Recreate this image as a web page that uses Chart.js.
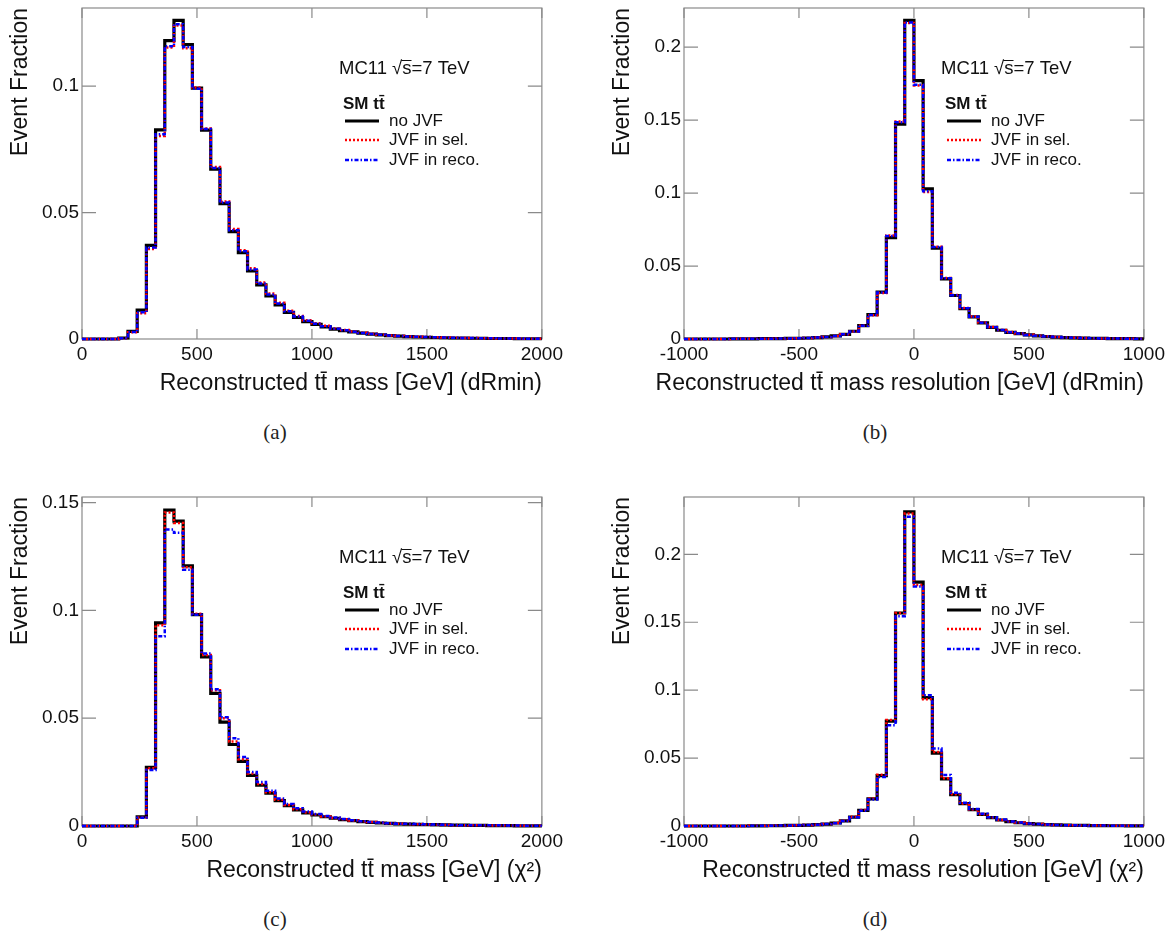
<!DOCTYPE html>
<html>
<head>
<meta charset="utf-8">
<script src="https://cdn.jsdelivr.net/npm/chart.js@4.4.0/dist/chart.umd.min.js"></script>
<style>
  body { margin: 0; background: #fff; }
  #page { position: relative; width: 1173px; height: 936px; overflow: hidden; background: #fff; }
  canvas { position: absolute; }
  .cap { position: absolute; font-family: "Liberation Serif", serif; font-size: 21px; color: #222;
         transform: translate(-50%, -50%); }
</style>
</head>
<body>
<div id="page">
  <canvas id="cA" width="567" height="409" style="left:0;top:-8px"></canvas>
  <canvas id="cB" width="567" height="409" style="left:602px;top:-8px"></canvas>
  <canvas id="cC" width="567" height="407" style="left:0;top:481px"></canvas>
  <canvas id="cD" width="567" height="407" style="left:602px;top:481px"></canvas>
  <div class="cap" style="left:275px;top:432px">(a)</div>
  <div class="cap" style="left:875px;top:432px">(b)</div>
  <div class="cap" style="left:275px;top:919px">(c)</div>
  <div class="cap" style="left:875px;top:919px">(d)</div>
</div>
<script>
// binning: 50 bins of 40 GeV
const binWidth = 40;
const massLow = 0, massHigh = 2000;
const resLow = -1000, resHigh = 1000;

const seriesNames = ["no JVF", "JVF in sel.", "JVF in reco."];

// (a) mass, dRmin
const massDR_noJVF = [0, 0, 0, 0, 0.0004, 0.003, 0.0114, 0.037, 0.0827, 0.118, 0.126, 0.1164, 0.0992, 0.0826, 0.0672, 0.0535, 0.0425, 0.0341, 0.0269, 0.0214, 0.017, 0.0135, 0.0105, 0.0085, 0.0069, 0.0058, 0.0048, 0.0039, 0.0033, 0.0028, 0.0023, 0.0019, 0.0016, 0.0013, 0.0011, 0.0009, 0.0008, 0.0007, 0.0006, 0.0005, 0.0004, 0.0004, 0.0003, 0.0003, 0.0002, 0.0002, 0.0002, 0.0001, 0.0001, 0.0001];
const massDR_sel = [0, 0, 0, 0, 0.0003, 0.0027, 0.0102, 0.0356, 0.0803, 0.1153, 0.124, 0.115, 0.0995, 0.0832, 0.068, 0.0544, 0.0435, 0.0351, 0.028, 0.0223, 0.018, 0.0143, 0.0112, 0.0091, 0.0074, 0.0062, 0.0052, 0.0042, 0.0036, 0.003, 0.0025, 0.0021, 0.0017, 0.0014, 0.0012, 0.001, 0.0009, 0.0008, 0.0007, 0.0006, 0.0005, 0.0004, 0.0004, 0.0003, 0.0003, 0.0002, 0.0002, 0.0002, 0.0001, 0.0001];
const massDR_reco = [0, 0, 0, 0, 0.0003, 0.0028, 0.0106, 0.0362, 0.081, 0.1158, 0.1245, 0.1155, 0.099, 0.083, 0.0676, 0.054, 0.043, 0.0347, 0.0275, 0.0219, 0.0176, 0.014, 0.011, 0.0089, 0.0072, 0.006, 0.005, 0.0041, 0.0035, 0.0029, 0.0024, 0.002, 0.0017, 0.0014, 0.0012, 0.001, 0.0009, 0.0008, 0.0007, 0.0006, 0.0005, 0.0004, 0.0004, 0.0003, 0.0003, 0.0002, 0.0002, 0.0002, 0.0001, 0.0001];

// (b) resolution, dRmin
const resDR_noJVF = [0, 0, 0, 0, 0, 0.0001, 0.0001, 0.0001, 0.0002, 0.0002, 0.0003, 0.0004, 0.0005, 0.0007, 0.001, 0.0014, 0.0021, 0.0032, 0.0053, 0.0092, 0.0167, 0.0321, 0.0694, 0.1473, 0.2183, 0.1771, 0.1029, 0.0623, 0.0412, 0.0298, 0.0208, 0.0151, 0.011, 0.008, 0.006, 0.0046, 0.0037, 0.0028, 0.0022, 0.0017, 0.0013, 0.001, 0.0008, 0.0006, 0.0005, 0.0004, 0.0003, 0.0003, 0.0002, 0.0001];
const resDR_sel = [0, 0, 0, 0, 0, 0.0001, 0.0001, 0.0001, 0.0002, 0.0002, 0.0003, 0.0004, 0.0005, 0.0007, 0.001, 0.0014, 0.0021, 0.0032, 0.0052, 0.009, 0.0163, 0.0315, 0.071, 0.149, 0.2165, 0.1737, 0.1008, 0.0632, 0.0418, 0.0302, 0.0212, 0.0154, 0.0113, 0.0082, 0.0062, 0.0048, 0.0038, 0.0029, 0.0023, 0.0018, 0.0014, 0.0011, 0.0008, 0.0006, 0.0005, 0.0004, 0.0003, 0.0003, 0.0002, 0.0001];
const resDR_reco = [0, 0, 0, 0, 0, 0.0001, 0.0001, 0.0001, 0.0002, 0.0002, 0.0003, 0.0004, 0.0005, 0.0007, 0.001, 0.0014, 0.0021, 0.0032, 0.0052, 0.0091, 0.0165, 0.0318, 0.0705, 0.1485, 0.2168, 0.1742, 0.1012, 0.063, 0.0416, 0.03, 0.021, 0.0153, 0.0112, 0.0081, 0.0061, 0.0047, 0.0037, 0.0028, 0.0022, 0.0017, 0.0013, 0.001, 0.0008, 0.0006, 0.0005, 0.0004, 0.0003, 0.0003, 0.0002, 0.0001];

// (c) mass, chi2
const massChi_noJVF = [0, 0, 0, 0, 0, 0, 0.0042, 0.0272, 0.0942, 0.1465, 0.1414, 0.1207, 0.098, 0.0784, 0.0615, 0.0482, 0.0378, 0.03, 0.0235, 0.0189, 0.0152, 0.0118, 0.0094, 0.0075, 0.0061, 0.0051, 0.0043, 0.0036, 0.003, 0.0025, 0.002, 0.0017, 0.0014, 0.0012, 0.001, 0.0009, 0.0008, 0.0007, 0.0006, 0.0005, 0.0004, 0.0004, 0.0003, 0.0003, 0.0002, 0.0002, 0.0002, 0.0001, 0.0001, 0.0001];
const massChi_sel = [0, 0, 0, 0, 0, 0, 0.004, 0.0268, 0.0931, 0.1454, 0.1405, 0.12, 0.0985, 0.0793, 0.063, 0.05, 0.0392, 0.031, 0.0243, 0.0195, 0.0157, 0.0122, 0.0097, 0.0078, 0.0063, 0.0053, 0.0044, 0.0037, 0.0031, 0.0026, 0.0021, 0.0018, 0.0015, 0.0012, 0.001, 0.0009, 0.0008, 0.0007, 0.0006, 0.0005, 0.0004, 0.0004, 0.0003, 0.0003, 0.0002, 0.0002, 0.0002, 0.0001, 0.0001, 0.0001];
const massChi_reco = [0, 0, 0, 0, 0, 0, 0.0038, 0.026, 0.088, 0.1375, 0.136, 0.1188, 0.098, 0.08, 0.0634, 0.0504, 0.0407, 0.032, 0.025, 0.0204, 0.0163, 0.0128, 0.0102, 0.0082, 0.0067, 0.0056, 0.0046, 0.0039, 0.0033, 0.0027, 0.0022, 0.0019, 0.0016, 0.0013, 0.0011, 0.001, 0.0009, 0.0008, 0.0007, 0.0006, 0.0005, 0.0004, 0.0004, 0.0003, 0.0003, 0.0003, 0.0002, 0.0002, 0.0001, 0.0001];

// (d) resolution, chi2
const resChi_noJVF = [0, 0, 0, 0, 0, 0, 0, 0.0001, 0.0001, 0.0002, 0.0003, 0.0004, 0.0005, 0.0007, 0.001, 0.0014, 0.0022, 0.0037, 0.0066, 0.0115, 0.02, 0.0371, 0.0772, 0.1568, 0.2313, 0.1795, 0.0945, 0.0537, 0.0347, 0.023, 0.0164, 0.012, 0.0085, 0.0061, 0.0044, 0.0032, 0.0024, 0.0018, 0.0014, 0.001, 0.0008, 0.0006, 0.0005, 0.0004, 0.0003, 0.0003, 0.0002, 0.0002, 0.0001, 0.0001];
const resChi_sel = [0, 0, 0, 0, 0, 0, 0, 0.0001, 0.0001, 0.0002, 0.0003, 0.0004, 0.0005, 0.0007, 0.001, 0.0014, 0.0022, 0.0038, 0.0068, 0.0117, 0.0203, 0.0378, 0.078, 0.1568, 0.23, 0.1775, 0.0933, 0.0545, 0.0352, 0.0233, 0.0166, 0.0122, 0.0087, 0.0063, 0.0045, 0.0033, 0.0025, 0.0019, 0.0014, 0.001, 0.0008, 0.0006, 0.0005, 0.0004, 0.0003, 0.0003, 0.0002, 0.0002, 0.0001, 0.0001];
const resChi_reco = [0, 0, 0, 0, 0, 0, 0, 0.0001, 0.0001, 0.0002, 0.0003, 0.0004, 0.0005, 0.0007, 0.001, 0.0014, 0.0021, 0.0036, 0.0065, 0.0112, 0.0195, 0.036, 0.0742, 0.1544, 0.2276, 0.1763, 0.0962, 0.0571, 0.0376, 0.0245, 0.0172, 0.0126, 0.009, 0.0065, 0.0047, 0.0034, 0.0026, 0.0019, 0.0015, 0.0011, 0.0008, 0.0006, 0.0005, 0.0004, 0.0003, 0.0003, 0.0002, 0.0002, 0.0001, 0.0001];

// axis ticks
const massTicks = [0, 500, 1000, 1500, 2000];
const massTickLabels = ["0", "500", "1000", "1500", "2000"];
const resTicks = [-1000, -500, 0, 500, 1000];
const resTickLabels = ["-1000", "-500", "0", "500", "1000"];
const yTicksMassDR = [0, 0.05, 0.1];
const yLabelsMassDR = ["0", "0.05", "0.1"];
const yTicksMassChi = [0, 0.05, 0.1, 0.15];
const yLabelsMassChi = ["0", "0.05", "0.1", "0.15"];
const yTicksRes = [0, 0.05, 0.1, 0.15, 0.2];
const yLabelsRes = ["0", "0.05", "0.1", "0.15", "0.2"];

const FONT = "'Liberation Sans', Arial, sans-serif";

function toSteps(low, vals) {
  // one point at each bin's low edge, plus the closing edge
  const pts = vals.map((v, i) => ({x: low + i * binWidth, y: v}));
  pts.push({x: low + vals.length * binWidth, y: vals[vals.length - 1]});
  return pts;
}

function drawLegend(ctx, a) {
  const x0 = a.left, y0 = a.top;
  ctx.fillStyle = "#111";
  ctx.textBaseline = "middle";
  ctx.textAlign = "left";
  ctx.font = "18.5px " + FONT;
  const pre = "MC11 \u221A";
  ctx.fillText(pre + "s=7 TeV", x0 + 257, y0 + 61);
  const w1 = ctx.measureText(pre).width, ws = ctx.measureText("s").width;
  ctx.strokeStyle = "#111"; ctx.lineWidth = 1; ctx.setLineDash([]);
  ctx.beginPath();
  ctx.moveTo(x0 + 257 + w1 - 1, y0 + 52.5); ctx.lineTo(x0 + 257 + w1 + ws, y0 + 52.5);
  ctx.stroke();

  ctx.font = "bold 17px " + FONT;
  ctx.fillText("SM tt\u0304", x0 + 261, y0 + 96);

  ctx.font = "17px " + FONT;
  const rows = [
    {y: 113, color: "#000", w: 3, dash: []},
    {y: 132, color: "#ff0000", w: 2.5, dash: [2, 2]},
    {y: 152, color: "#0000ff", w: 2.5, dash: [4, 2, 1.5, 2]}
  ];
  rows.forEach((r, i) => {
    ctx.strokeStyle = r.color; ctx.lineWidth = r.w; ctx.setLineDash(r.dash);
    ctx.beginPath();
    ctx.moveTo(x0 + 263, y0 + r.y); ctx.lineTo(x0 + 297, y0 + r.y);
    ctx.stroke();
    ctx.setLineDash([]);
    ctx.fillText(seriesNames[i], x0 + 307, y0 + r.y);
  });
}

function makeChart(id, low, high, black, red, blue, xTicks, xLabels, yTicks, yLabels, yMax, xTitle) {
  const framePlugin = {
    id: "frame",
    beforeDatasetsDraw(chart) {
      const {ctx, chartArea: a, scales: {x, y}} = chart;
      ctx.save();
      ctx.strokeStyle = "#8a8a8a";
      ctx.lineWidth = 1.2;
      ctx.strokeRect(a.left, a.top, a.width, a.height);
      ctx.beginPath();
      x.ticks.forEach(t => {
        const px = x.getPixelForValue(t.value);
        ctx.moveTo(px, a.bottom); ctx.lineTo(px, a.bottom - 10);
        ctx.moveTo(px, a.top); ctx.lineTo(px, a.top + 10);
      });
      y.ticks.forEach(t => {
        const py = y.getPixelForValue(t.value);
        ctx.moveTo(a.left, py); ctx.lineTo(a.left + 14, py);
        ctx.moveTo(a.right, py); ctx.lineTo(a.right - 14, py);
      });
      ctx.stroke();
      ctx.restore();
    },
    afterDraw(chart) {
      const {ctx, chartArea: a} = chart;
      ctx.save();
      drawLegend(ctx, a);
      ctx.fillStyle = "#111";
      ctx.font = "23px " + FONT;
      ctx.textAlign = "right";
      ctx.textBaseline = "middle";
      ctx.fillText(xTitle, a.right, a.bottom + 45);
      ctx.restore();
    }
  };

  return new Chart(document.getElementById(id), {
    type: "line",
    data: {
      datasets: [
        {label: seriesNames[2], data: toSteps(low, blue), borderColor: "#0000ff", borderWidth: 2.5,
         borderDash: [4, 2, 1.5, 2], stepped: "before", pointRadius: 0, fill: false, clip: false, order: 1},
        {label: seriesNames[1], data: toSteps(low, red), borderColor: "#ff0000", borderWidth: 2.5,
         borderDash: [2, 2], stepped: "before", pointRadius: 0, fill: false, clip: false, order: 2},
        {label: seriesNames[0], data: toSteps(low, black), borderColor: "#000000", borderWidth: 3.2,
         stepped: "before", pointRadius: 0, fill: false, clip: false, order: 3}
      ]
    },
    options: {
      responsive: false,
      animation: false,
      events: [],
      layout: {padding: {left: 0, top: 16, right: 25, bottom: 0}},
      plugins: {legend: {display: false}, tooltip: {enabled: false}},
      scales: {
        x: {
          type: "linear", min: low, max: high,
          afterFit: s => { s.height = 62; },
          afterBuildTicks: s => { s.ticks = xTicks.map(v => ({value: v})); },
          grid: {display: false, drawTicks: false},
          border: {display: false},
          ticks: {autoSkip: false, maxRotation: 0, padding: 4, color: "#111",
                  font: {family: FONT, size: 19},
                  callback: (v, i) => xLabels[i]}
        },
        y: {
          type: "linear", min: 0, max: yMax,
          afterFit: s => { s.width = 82; },
          afterBuildTicks: s => { s.ticks = yTicks.map(v => ({value: v})); },
          grid: {display: false, drawTicks: false},
          border: {display: false},
          ticks: {padding: 3, color: "#111", font: {family: FONT, size: 19},
                  callback: (v, i) => yLabels[i]},
          title: {display: true, text: "Event Fraction", align: "end", color: "#111",
                  font: {family: FONT, size: 23}, padding: {top: 7, bottom: 0}}
        }
      }
    },
    plugins: [framePlugin]
  });
}

makeChart("cA", massLow, massHigh, massDR_noJVF, massDR_sel, massDR_reco,
  massTicks, massTickLabels, yTicksMassDR, yLabelsMassDR, 0.1309,
  "Reconstructed tt\u0304 mass [GeV] (dRmin)");
makeChart("cB", resLow, resHigh, resDR_noJVF, resDR_sel, resDR_reco,
  resTicks, resTickLabels, yTicksRes, yLabelsRes, 0.2268,
  "Reconstructed tt\u0304 mass resolution [GeV] (dRmin)");
makeChart("cC", massLow, massHigh, massChi_noJVF, massChi_sel, massChi_reco,
  massTicks, massTickLabels, yTicksMassChi, yLabelsMassChi, 0.1526,
  "Reconstructed tt\u0304 mass [GeV] (\u03C7\u00B2)");
makeChart("cD", resLow, resHigh, resChi_noJVF, resChi_sel, resChi_reco,
  resTicks, resTickLabels, yTicksRes, yLabelsRes, 0.2422,
  "Reconstructed tt\u0304 mass resolution [GeV] (\u03C7\u00B2)");
</script>
</body>
</html>
